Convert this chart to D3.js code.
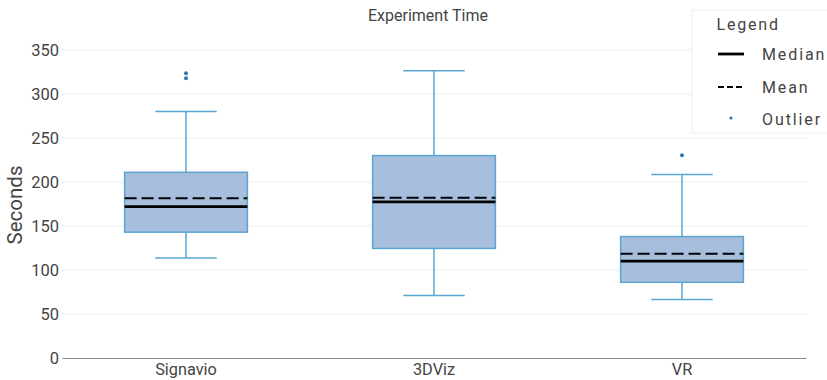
<!DOCTYPE html>
<html>
<head>
<meta charset="utf-8">
<script src="https://cdn.jsdelivr.net/npm/d3@7"></script>
<style>
body{margin:0;background:#fff;}
text{font-family:Roboto, "Noto Sans", sans-serif;}
</style>
</head>
<body>
<svg id="c" width="827" height="380"></svg>
<script>
const categories = ["Signavio", "3DViz", "VR"];
const q1 = [143, 124.5, 86];
const q3 = [211, 230, 138];
const medians = [172, 177.5, 110];
const means = [181.5, 182, 118.5];
const whiskerLow = [113.5, 71, 66.5];
const whiskerHigh = [280, 326.5, 208.5];
const outliers = [[318, 323.5], [], [230.5]];
const yTicks = [0, 50, 100, 150, 200, 250, 300, 350];
const legendItems = ["Median", "Mean", "Outlier"];

const svg = d3.select("#c");
const margin = {left: 62, right: 21, top: 50, bottom: 22};
const W = 827, H = 380;
const x = d3.scaleBand().domain(categories).range([margin.left, W - margin.right]).paddingInner(0).paddingOuter(0);
const y = d3.scaleLinear().domain([0, 350]).range([358, 50]);

// gridlines
svg.append("g").selectAll("line").data(yTicks.filter(d => d > 0)).join("line")
  .attr("x1", margin.left).attr("x2", W - margin.right)
  .attr("y1", d => y(d)).attr("y2", d => y(d))
  .attr("stroke", "#eeeeee").attr("stroke-width", 1);

// y axis labels
const yAxis = d3.axisLeft(y).tickValues(yTicks).tickSize(0).tickPadding(3);
const ya = svg.append("g").attr("transform", `translate(${margin.left},0)`).call(yAxis);
ya.select(".domain").remove();
ya.selectAll("text").attr("font-size", 16.5).attr("fill", "#444").attr("font-family", "Roboto");

// x axis
const xAxis = d3.axisBottom(x).tickSize(0).tickPadding(5);
const xa = svg.append("g").attr("transform", `translate(0,${y(0)})`).call(xAxis);
xa.select(".domain").attr("stroke", "#888").attr("stroke-width", 1.2);
xa.selectAll("text").attr("font-size", 16.3).attr("fill", "#444").attr("font-family", "Roboto");

const boxW = x.bandwidth() * 0.495;
const capW = boxW / 2;
const stroke = "#5aa6d2";
const fill = "#a7bedc";

const g = svg.append("g");
categories.forEach((c, i) => {
  const cx = x(c) + x.bandwidth() / 2;
  // whiskers
  g.append("line").attr("x1", cx).attr("x2", cx).attr("y1", y(q3[i])).attr("y2", y(whiskerHigh[i]))
    .attr("stroke", stroke).attr("stroke-width", 1.5);
  g.append("line").attr("x1", cx).attr("x2", cx).attr("y1", y(q1[i])).attr("y2", y(whiskerLow[i]))
    .attr("stroke", stroke).attr("stroke-width", 1.5);
  g.append("line").attr("x1", cx - capW / 2).attr("x2", cx + capW / 2).attr("y1", y(whiskerHigh[i])).attr("y2", y(whiskerHigh[i]))
    .attr("stroke", stroke).attr("stroke-width", 1.5);
  g.append("line").attr("x1", cx - capW / 2).attr("x2", cx + capW / 2).attr("y1", y(whiskerLow[i])).attr("y2", y(whiskerLow[i]))
    .attr("stroke", stroke).attr("stroke-width", 1.5);
  // box
  g.append("rect").attr("x", cx - boxW / 2).attr("width", boxW)
    .attr("y", y(q3[i])).attr("height", y(q1[i]) - y(q3[i]))
    .attr("fill", fill).attr("stroke", stroke).attr("stroke-width", 1.5);
  // median
  g.append("line").attr("x1", cx - boxW / 2).attr("x2", cx + boxW / 2).attr("y1", y(medians[i])).attr("y2", y(medians[i]))
    .attr("stroke", "#000").attr("stroke-width", 2.8);
  // mean
  g.append("line").attr("x1", cx - boxW / 2).attr("x2", cx + boxW / 2).attr("y1", y(means[i])).attr("y2", y(means[i]))
    .attr("stroke", "#000").attr("stroke-width", 2).attr("stroke-dasharray", "12,5");
  // outliers
  g.selectAll(null).data(outliers[i]).join("circle")
    .attr("cx", cx).attr("cy", d => y(d)).attr("r", 2).attr("fill", "#2878b5");
});

// title
svg.append("text").attr("x", 428).attr("y", 21).attr("text-anchor", "middle")
  .attr("font-size", 16).attr("fill", "#444").text("Experiment Time");

// y label
svg.append("text").attr("transform", "translate(22,205) rotate(-90)").attr("text-anchor", "middle")
  .attr("font-size", 20.5).attr("fill", "#444").text("Seconds");

// legend
const lg = svg.append("g");
lg.append("rect").attr("x", 692).attr("y", 10).attr("width", 150).attr("height", 123)
  .attr("fill", "#fff").attr("stroke", "#eeeeee").attr("stroke-width", 1);
lg.append("text").attr("x", 716.5).attr("y", 30).attr("font-size", 16).attr("letter-spacing", 1.8)
  .attr("fill", "#444").text("Legend");
const ly = [55, 88, 120];
legendItems.forEach((t, i) => {
  if (i === 0) lg.append("line").attr("x1", 718).attr("x2", 744).attr("y1", ly[i] - 1).attr("y2", ly[i] - 1).attr("stroke", "#000").attr("stroke-width", 2.8);
  if (i === 1) lg.append("line").attr("x1", 718).attr("x2", 744).attr("y1", ly[i] - 1).attr("y2", ly[i] - 1).attr("stroke", "#000").attr("stroke-width", 1.8).attr("stroke-dasharray", "6,3");
  if (i === 2) lg.append("circle").attr("cx", 731).attr("cy", ly[i] - 2).attr("r", 1.6).attr("fill", "#2878b5");
  lg.append("text").attr("x", 762).attr("y", ly[i] + 5).attr("font-size", 16).attr("letter-spacing", 1.9)
    .attr("fill", "#444").text(t);
});
</script>
</body>
</html>
